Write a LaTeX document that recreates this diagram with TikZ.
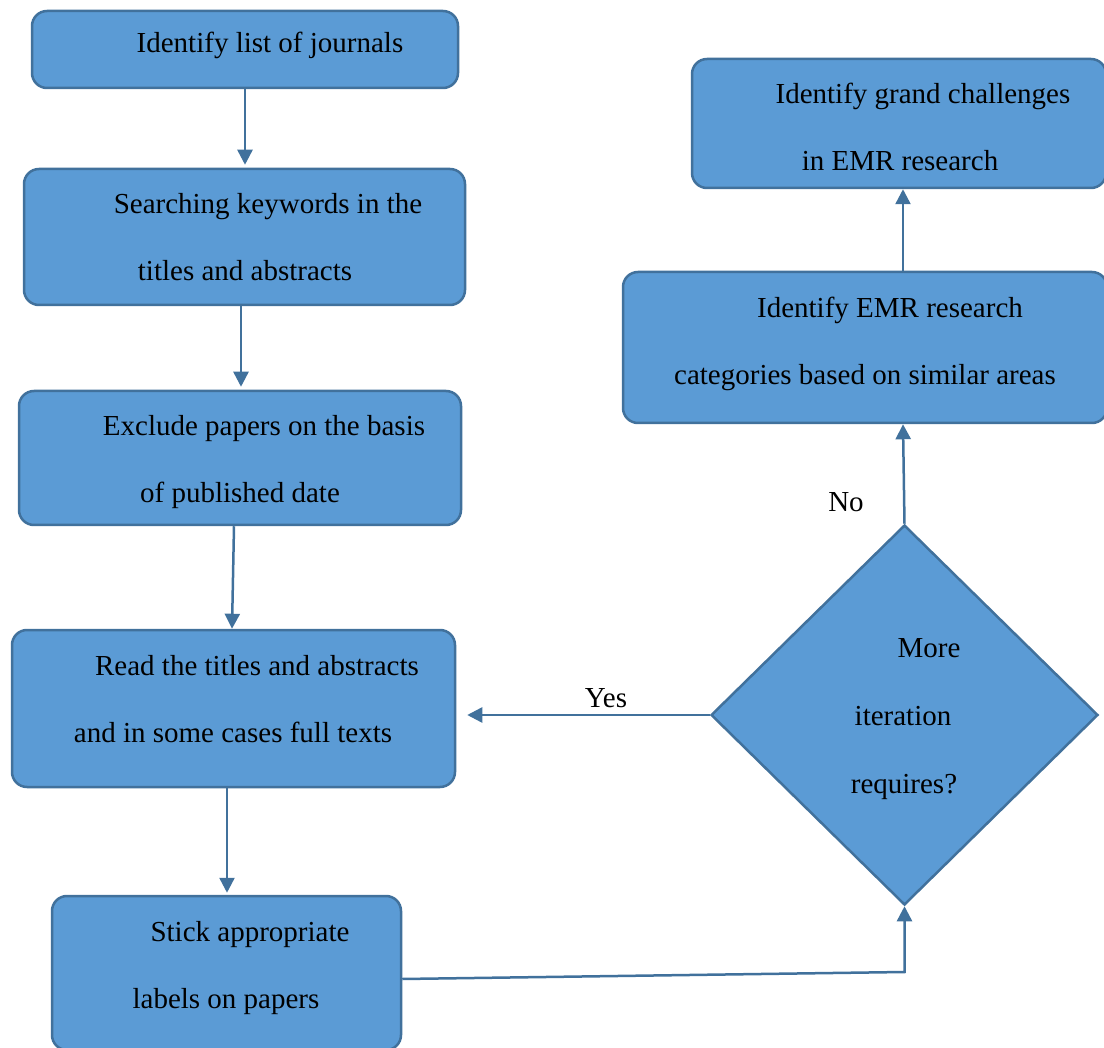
\documentclass[tikz,border=0pt]{standalone}
\usepackage{fontspec}
\setmainfont{Liberation Serif}
\usetikzlibrary{arrows.meta,shapes.geometric}
\definecolor{boxfill}{HTML}{5B9BD5}
\definecolor{boxline}{HTML}{41719C}
\begin{document}
\begin{tikzpicture}[x=1pt,y=-1pt,
  stepbox/.style={draw=boxline, fill=boxfill, line width=2.5pt,
    rounded corners=15pt, inner sep=0pt},
  decision/.style={draw=boxline, fill=boxfill, line width=2.5pt,
    diamond, inner sep=0pt},
  txt/.style={anchor=base, inner sep=0pt, font=\fontsize{29}{34}\selectfont},
  link/.style={draw=boxline, line width=2.5pt,
    -{Triangle[width=15pt,length=15pt]}}]
\useasboundingbox (0,0) rectangle (1104,1048);
\clip (0,0) rectangle (1104,1048);

% process boxes
\node[stepbox, minimum width=426, minimum height=77]  (b1) at (245,49.5) {};
\node[stepbox, minimum width=441, minimum height=136] (b2) at (244.5,237) {};
\node[stepbox, minimum width=442, minimum height=134] (b3) at (240,458) {};
\node[stepbox, minimum width=443, minimum height=157] (b4) at (233.5,708.5) {};
\node[stepbox, minimum width=349, minimum height=154] (b5) at (226.5,973) {};
\node[stepbox, minimum width=414, minimum height=129] (b6) at (899,123.5) {};
\node[stepbox, minimum width=484, minimum height=151] (b7) at (865,347.5) {};
\node[decision, minimum width=387, minimum height=380] (d) at (904.5,715) {};

% box texts
\node[txt] (t1)  at (270,52.5)  {Identify list of journals};
\node[txt] (t2a) at (268,213.5) {Searching keywords in the};
\node[txt] (t2b) at (245,280.5) {titles and abstracts};
\node[txt] (t3a) at (264,435.5) {Exclude papers on the basis};
\node[txt] (t3b) at (240,502.5) {of published date};
\node[txt] (t4a) at (257,675.5) {Read the titles and abstracts};
\node[txt] (t4b) at (233,742.5) {and in some cases full texts};
\node[txt] (t5a) at (250,941.5) {Stick appropriate};
\node[txt] (t5b) at (226,1008.5) {labels on papers};
\node[txt] (t6a) at (923,103.5) {Identify grand challenges};
\node[txt] (t6b) at (900,170.5) {in EMR research};
\node[txt] (t7a) at (890,317.5) {Identify EMR research};
\node[txt] (t7b) at (865,384.5) {categories based on similar areas};
\node[txt] (tda) at (929,657.5) {More};
\node[txt] (tdb) at (903,725.5) {iteration};
\node[txt] (tdc) at (904,793.5) {requires?};

% connectors
\draw[link, shorten >=3pt] (b1.south) -- (b1.south |- b2.north);
\draw[link, shorten >=3pt] ([xshift=-3.5pt]b2.south) -- ([xshift=-3.5pt]b2.south |- b3.north);
\draw[link] ([xshift=-6pt]b3.south) -- ([xshift=-1.5pt]b4.north);
\draw[link, shorten >=2pt] ([xshift=-6.5pt]b4.south) -- ([xshift=-6.5pt]b4.south |- b5.north);
\coordinate (bend) at (904.5,972);
\draw[link] ([yshift=-6pt]b5.east) -- (bend) -- (d.south);
\draw[link] (d.north) -- ([xshift=38pt]b7.south);
\draw[link] ([xshift=38pt]b7.north) -- ([xshift=4pt]b6.south);
\draw[link, shorten >=11pt] (d.west) -- (d.west -| b4.east);

% branch labels
\node[txt] (yes) at (606,707.5) {Yes};
\node[txt] (no)  at (846,511.5) {No};
\end{tikzpicture}
\end{document}
